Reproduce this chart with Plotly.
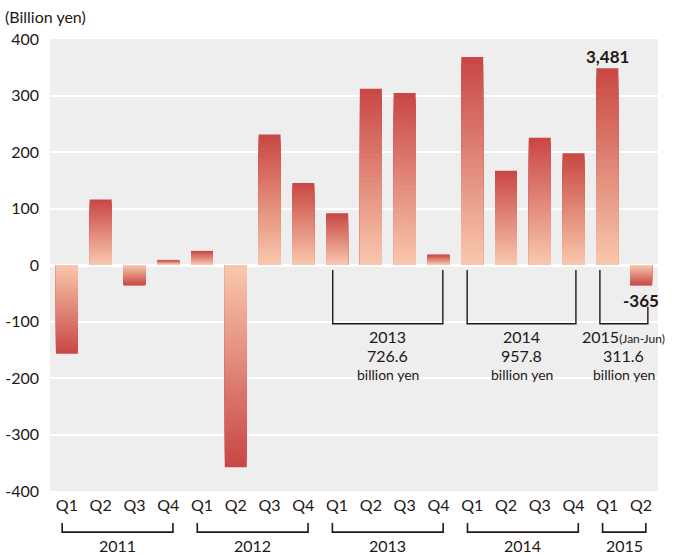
"""Quarterly balance bar chart, Billion yen, 2011-2015."""

import plotly.graph_objects as go

QUARTERS = ["Q1", "Q2", "Q3", "Q4"] * 4 + ["Q1", "Q2"]
YEARS = ["2011", "2012", "2013", "2014", "2015"]
VALUES = [
    -157, 116, -36.5, 9,
    25, -358, 231, 145,
    91.5, 312, 304.5, 18.6,
    368, 167, 225, 197.8,
    348.1, -36.5,
]
YEAR_TOTALS = [("2013", "726.6"), ("2014", "957.8"), ("2015", "311.6")]
Y_TICKS = [400, 300, 200, 100, 0, -100, -200, -300, -400]

TEXT = "#231815"
FONT = "Lato"
LIGHT = (248, 198, 172)
DARK = (201, 72, 69)
STEPS = 30


def mix(t):
    r, g, b = (round(a + (c - a) * t) for a, c in zip(LIGHT, DARK))
    return f"rgb({r},{g},{b})"


x = list(range(len(VALUES)))
fig = go.Figure()

# overlaid bars, full length dark first, shorter lighter ones on top,
# so each bar fades from light (at zero) to dark (at the tip)
for k in range(STEPS):
    frac = (STEPS - k) / STEPS
    fig.add_trace(
        go.Bar(
            x=x,
            y=[v * frac for v in VALUES],
            marker={"color": mix(1 - k / (STEPS - 1)), "line": {"width": 0}},
            showlegend=False,
            hoverinfo="skip",
        )
    )

# value labels on the 2015 bars
fig.add_annotation(x=16, y=VALUES[16], text="<b>3,481</b>", showarrow=False,
                   yanchor="bottom", yshift=-1, font={"size": 17})
fig.add_annotation(x=17, y=VALUES[17], text="<b>-365</b>", showarrow=False,
                   yanchor="top", yshift=-2, font={"size": 17})

# brackets inside the plot with yearly totals
inner = [(7.87, 11.13, -9, "2013"), (11.85, 15.07, -9, "2014"), (15.78, 17.2, -74, "2015")]
for (x0, x1, top, yr), (_, total) in zip(inner, YEAR_TOTALS):
    path = f"M {x0},-9 L {x0},-104 L {x1},-104 L {x1},{top}"
    fig.add_shape(type="path", path=path, xref="x", yref="y",
                  line={"color": TEXT, "width": 1.4})
    mid = (x0 + x1) / 2
    head = yr if yr != "2015" else "2015<span style='font-size:12px'>(Jan-Jun)</span>"
    fig.add_annotation(x=mid, y=-127, text=head, showarrow=False, font={"size": 16})
    fig.add_annotation(x=mid, y=-161, text=total, showarrow=False, font={"size": 16})
    fig.add_annotation(x=mid, y=-194, text="billion yen", showarrow=False, font={"size": 14})

# year brackets under the quarter labels
year_spans = [(0, 3), (4, 7), (8, 11), (12, 15), (16, 17)]
for yr, (a, b) in zip(YEARS, year_spans):
    x0, x1 = a - 0.14, b + 0.14
    fig.add_shape(type="path", path=f"M {x0},-0.071 L {x0},-0.091 L {x1},-0.091 L {x1},-0.071",
                  xref="x", yref="paper", line={"color": TEXT, "width": 1.6})
    fig.add_annotation(x=(a + b) / 2, y=-0.121, xref="x", yref="paper", text=yr,
                       showarrow=False, yanchor="middle", font={"size": 16})

fig.add_annotation(x=-0.078, y=1.049, xref="paper", yref="paper", text="(Billion yen)",
                   showarrow=False, xanchor="left", yanchor="middle", font={"size": 16})

fig.update_layout(
    width=673,
    height=554,
    barmode="overlay",
    bargap=0.35,
    margin={"l": 50, "r": 15, "t": 39, "b": 63},
    paper_bgcolor="white",
    plot_bgcolor="#eeeeee",
    font={"family": FONT, "color": TEXT, "size": 16},
    xaxis={
        "range": [-0.5, 17.5],
        "tickvals": x,
        "ticktext": QUARTERS,
        "showgrid": False,
        "zeroline": False,
        "ticklabelstandoff": 3,
        "automargin": False,
    },
    yaxis={
        "range": [-400, 400],
        "tickvals": Y_TICKS,
        "ticktext": [str(t) for t in Y_TICKS],
        "gridcolor": "white",
        "gridwidth": 1.5,
        "zeroline": True,
        "zerolinecolor": "white",
        "zerolinewidth": 2.5,
        "ticklabelstandoff": 10,
        "automargin": False,
    },
)

fig.write_html(
    "out.html",
    config={"displayModeBar": False},
    post_script="document.body.style.margin='0px';",
)
